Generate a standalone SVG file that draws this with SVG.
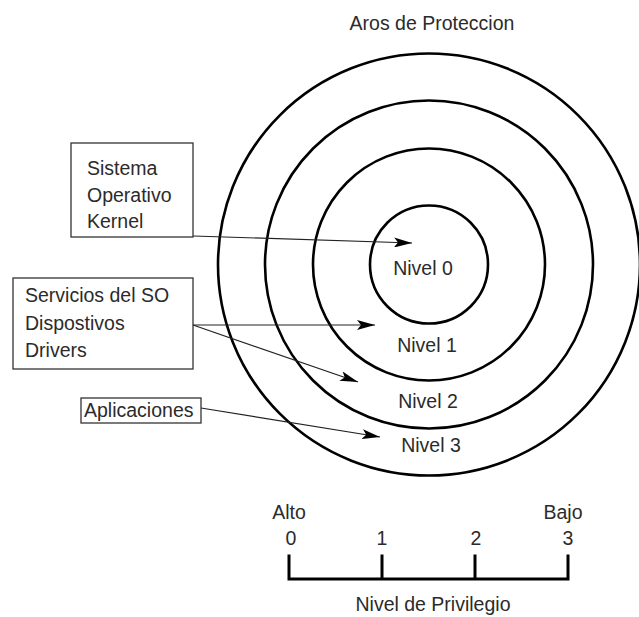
<svg xmlns="http://www.w3.org/2000/svg" width="639" height="617" viewBox="0 0 639 617">
<defs>
<style>
.t{font-family:"Liberation Sans",Arial,sans-serif;font-size:19.5px;fill:#2b2b2b}
.m{text-anchor:middle}
.ring{fill:none;stroke:#000;stroke-width:2.6}
.box{fill:#fff;stroke:#333;stroke-width:1.3}
.con{fill:none;stroke:#222;stroke-width:1.2;marker-end:url(#ah)}
.bar{fill:none;stroke:#000;stroke-width:3;stroke-linecap:square}
</style>
<marker id="ah" viewBox="0 0 18 10" refX="18" refY="5" markerWidth="18" markerHeight="10" markerUnits="userSpaceOnUse" orient="auto">
<path d="M0,0 L18,5 L0,10 L4,5 z" fill="#000"/>
</marker>
</defs>
<rect width="639" height="617" fill="#fff"/>
<text class="t m" x="432" y="30">Aros de Proteccion</text>
<g id="rings">
<circle class="ring" cx="429" cy="264.5" r="211"/>
<circle class="ring" cx="429" cy="264.5" r="164"/>
<circle class="ring" cx="429" cy="264.5" r="116"/>
<circle class="ring" cx="429" cy="264.5" r="59"/>
</g>
<g id="levels">
<text class="t m" x="423" y="275">Nivel 0</text>
<text class="t m" x="427" y="352">Nivel 1</text>
<text class="t m" x="428" y="408">Nivel 2</text>
<text class="t m" x="431" y="452">Nivel 3</text>
</g>
<g id="connectors">
<line class="con" x1="193" y1="236" x2="412" y2="243"/>
<line class="con" x1="193" y1="325" x2="375" y2="325"/>
<line class="con" x1="193" y1="325" x2="358" y2="382"/>
<line class="con" x1="201" y1="408" x2="380" y2="437"/>
</g>
<g id="box-kernel">
<rect class="box" x="71" y="143" width="122" height="94"/>
<text class="t" x="87" y="175">Sistema</text>
<text class="t" x="87" y="202">Operativo</text>
<text class="t" x="87" y="228">Kernel</text>
</g>
<g id="box-servicios">
<rect class="box" x="13" y="278" width="180" height="91"/>
<text class="t" x="25" y="302">Servicios del SO</text>
<text class="t" x="25" y="330">Dispostivos</text>
<text class="t" x="25" y="357">Drivers</text>
</g>
<g id="box-aplicaciones">
<rect class="box" x="81" y="398" width="120" height="25"/>
<text class="t" x="84" y="417">Aplicaciones</text>
</g>
<g id="scale">
<path class="bar" d="M289,556 V579 H568 V556 M382,556 V579 M475,556 V579"/>
<text class="t m" x="289" y="519">Alto</text>
<text class="t m" x="563" y="519">Bajo</text>
<text class="t m" x="291" y="545">0</text>
<text class="t m" x="382" y="545">1</text>
<text class="t m" x="476" y="545">2</text>
<text class="t m" x="568" y="545">3</text>
<text class="t m" x="433" y="611">Nivel de Privilegio</text>
</g>
</svg>
